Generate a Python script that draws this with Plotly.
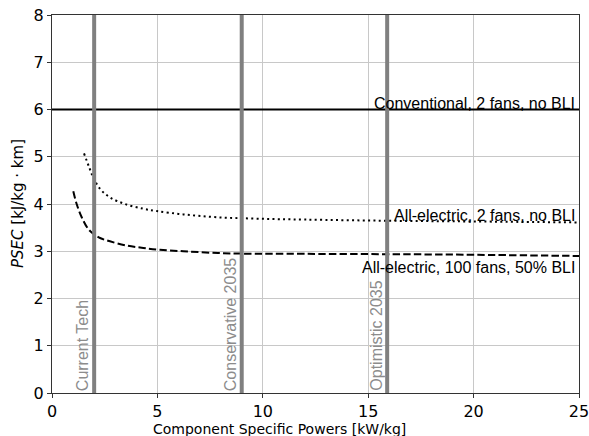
import plotly.graph_objects as go

# Data
x_dotted = [1.52, 1.77, 1.96, 2.28, 2.75, 3.46, 4.33, 4.97, 6.23, 7.81, 9.71, 12.0, 16.0, 20.0, 25.0]
y_dotted = [5.07, 4.77, 4.56, 4.32, 4.14, 4.00, 3.90, 3.85, 3.78, 3.72, 3.69, 3.67, 3.645, 3.63, 3.61]

x_dashed = [1.01, 1.17, 1.41, 1.72, 1.96, 2.28, 2.75, 3.54, 4.33, 5.12, 6.23, 7.5, 8.92, 12.0, 18.9, 25.0]
y_dashed = [4.27, 4.00, 3.72, 3.47, 3.37, 3.28, 3.21, 3.12, 3.07, 3.03, 3.00, 2.97, 2.95, 2.945, 2.93, 2.90]

conventional_psec = 6.0
tech_levels = [2.0, 9.0, 15.9]
tech_labels = ["Current Tech", "Conservative 2035", "Optimistic 2035"]

curve_labels = ["Conventional, 2 fans, no BLI", "All-electric, 2 fans, no BLI", "All-electric, 100 fans, 50% BLI"]

x_range = [0, 25]
y_range = [0, 8]

fig = go.Figure()

fig.add_trace(go.Scatter(x=x_range, y=[conventional_psec, conventional_psec], mode="lines",
                         line=dict(color="black", width=2), showlegend=False))
fig.add_trace(go.Scatter(x=x_dotted, y=y_dotted, mode="lines", line_shape="spline",
                         line=dict(color="black", width=2, dash="2px,3.3px"), showlegend=False))
fig.add_trace(go.Scatter(x=x_dashed, y=y_dashed, mode="lines", line_shape="spline",
                         line=dict(color="black", width=2, dash="7.4px,3.2px"), showlegend=False))

for xv in tech_levels:
    fig.add_trace(go.Scatter(x=[xv, xv], y=y_range, mode="lines",
                             line=dict(color="#808080", width=4), showlegend=False))

label_font = dict(family="Liberation Sans, Arial", size=16, color="black")
fig.add_annotation(x=24.92, y=conventional_psec, text=curve_labels[0], showarrow=False,
                   xanchor="right", yanchor="bottom", yshift=-4, font=label_font)
fig.add_annotation(x=24.92, y=y_dotted[-1], text=curve_labels[1], showarrow=False,
                   xanchor="right", yanchor="bottom", yshift=-4, font=label_font)
fig.add_annotation(x=24.92, y=y_dashed[-1], text=curve_labels[2], showarrow=False,
                   xanchor="right", yanchor="top", yshift=-1, font=label_font)

for xv, lab in zip(tech_levels, tech_labels):
    fig.add_annotation(x=xv, y=0, text=lab, showarrow=False, textangle=-90,
                       xanchor="right", yanchor="bottom", xshift=-1, yshift=0,
                       font=dict(family="Liberation Sans, Arial", size=16, color="#8c8c8c"))

fig.add_annotation(xref="paper", yref="paper", x=0.4326, y=0, yshift=-26,
                   text="Component Specific Powers [kW/kg]", showarrow=False,
                   xanchor="center", yanchor="top",
                   font=dict(family="DejaVu Sans", size=14, color="black"))
fig.add_annotation(xref="paper", yref="paper", x=0, xshift=-34, y=0.5,
                   text="<i>PSEC</i> [kJ/kg · km]", showarrow=False, textangle=-90,
                   xanchor="center", yanchor="middle",
                   font=dict(family="DejaVu Sans", size=15, color="black"))

axis_common = dict(showgrid=True, gridcolor="#c8c8c8", gridwidth=1, zeroline=False,
                   showline=True, linecolor="#333333", linewidth=1.3, mirror=True,
                   ticks="outside", ticklen=4, tickcolor="#333333", automargin=False,
                   ticklabeloverflow="allow",
                   tickfont=dict(family="DejaVu Sans", size=16, color="black"))

fig.update_xaxes(range=x_range, tickvals=[0, 5, 10, 15, 20, 25], **axis_common)
fig.update_yaxes(range=y_range, tickvals=[0, 1, 2, 3, 4, 5, 6, 7, 8], **axis_common)

fig.update_layout(width=589, height=436, margin=dict(l=52, r=10, t=15, b=43),
                  plot_bgcolor="white", paper_bgcolor="white")

fig.write_html("out.html")
